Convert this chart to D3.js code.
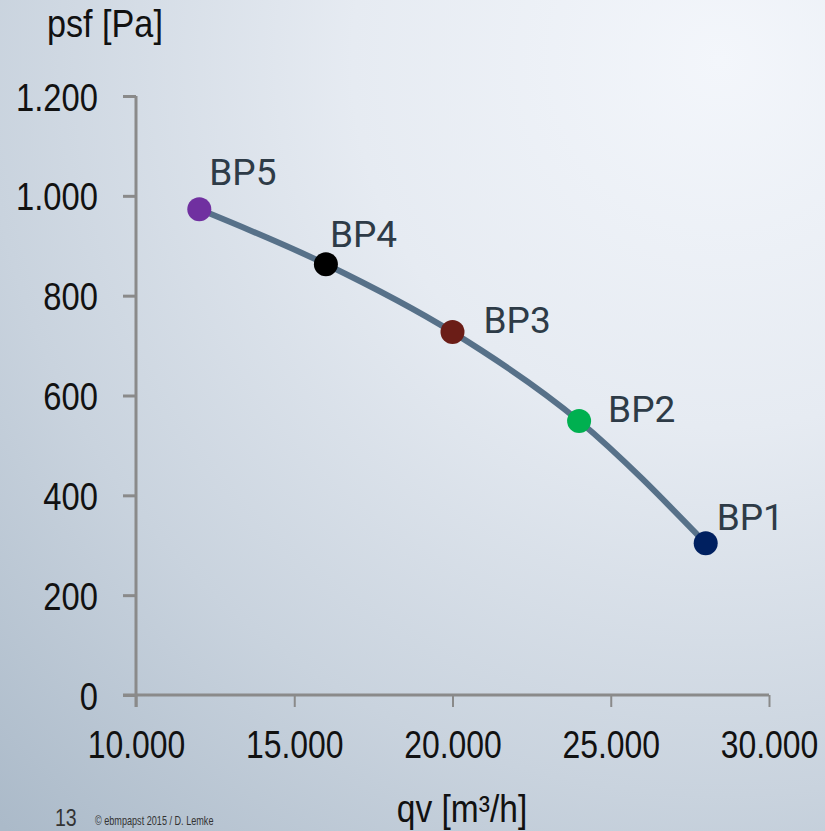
<!DOCTYPE html>
<html>
<head>
<meta charset="utf-8">
<script src="https://cdn.jsdelivr.net/npm/d3@7"></script>
<style>
  html, body { margin: 0; padding: 0; }
  body { width: 825px; height: 831px; overflow: hidden; }
  svg { display: block; }
</style>
</head>
<body>
<svg id="chart" width="825" height="831"></svg>
<script>
// Operating points of the fan curve
const pointNames = ["BP1", "BP2", "BP3", "BP4", "BP5"];
const flowValues = [28000, 24000, 20000, 16000, 12000];     // qv [m³/h]
const pressureValues = [304, 549, 727, 863, 973];           // psf [Pa]
const pointColors = ["#002060", "#00b050", "#6b1d17", "#000000", "#7030a0"];

const xTicks = [10000, 15000, 20000, 25000, 30000];
const yTicks = [0, 200, 400, 600, 800, 1000, 1200];

const W = 825, H = 831;
const svg = d3.select("#chart");

// Soft radial background, bright at upper right
const defs = svg.append("defs");
const bg = defs.append("radialGradient")
  .attr("id", "bg")
  .attr("gradientUnits", "userSpaceOnUse")
  .attr("cx", 720).attr("cy", 60).attr("r", 1050);
bg.append("stop").attr("offset", "0%").attr("stop-color", "#f3f6fb");
bg.append("stop").attr("offset", "35%").attr("stop-color", "#e6ebf2");
bg.append("stop").attr("offset", "70%").attr("stop-color", "#c9d3de");
bg.append("stop").attr("offset", "100%").attr("stop-color", "#abbac9");
svg.append("rect").attr("width", W).attr("height", H).attr("fill", "url(#bg)");

const x = d3.scaleLinear().domain([10000, 30000]).range([136, 769]);
const y = d3.scaleLinear().domain([0, 1200]).range([695, 96]);

const fmt = v => d3.format(",")(v).replace(/,/g, ".");
const sans = "'Liberation Sans', Arial, sans-serif";
const axisColor = "#8a8a8a";

// Squeeze text horizontally (narrow face look) around its own anchor point
function condense(sel, factor) {
  sel.each(function () {
    const x0 = +(this.getAttribute("x") || 0);
    d3.select(this).attr("transform", `translate(${x0},0) scale(${factor},1) translate(${-x0},0)`);
  });
}

// X axis
const xAxis = svg.append("g")
  .attr("transform", `translate(0,${y(0)})`)
  .call(d3.axisBottom(x).tickValues(xTicks).tickFormat(fmt).tickSize(12).tickSizeOuter(0).tickPadding(24));
xAxis.select(".domain").remove();
xAxis.append("line")
  .attr("x1", 123).attr("x2", x(30000)).attr("y1", 0).attr("y2", 0)
  .attr("stroke", axisColor).attr("stroke-width", 3);
xAxis.selectAll(".tick line").attr("stroke", axisColor).attr("stroke-width", 2);
xAxis.selectAll(".tick text")
  .attr("fill", "#111").attr("font-family", sans).attr("font-size", 38)
  .attr("dy", "0.71em")
  .call(condense, 0.84);

// Y axis
const yAxis = svg.append("g")
  .attr("transform", `translate(${x(10000)},0)`)
  .call(d3.axisLeft(y).tickValues(yTicks).tickFormat(fmt).tickSize(13).tickSizeOuter(0).tickPadding(25));
yAxis.select(".domain").remove();
yAxis.append("line")
  .attr("x1", 0).attr("x2", 0).attr("y1", y(1200)).attr("y2", y(0) + 12)
  .attr("stroke", axisColor).attr("stroke-width", 3);
yAxis.selectAll(".tick line").attr("stroke", axisColor).attr("stroke-width", 3);
yAxis.selectAll(".tick text")
  .attr("fill", "#111").attr("font-family", sans).attr("font-size", 39)
  .attr("dy", "0.36em")
  .call(condense, 0.84);

// Axis titles
svg.append("text").attr("x", 47).attr("y", 37)
  .attr("font-family", sans).attr("font-size", 38).attr("fill", "#111")
  .text("psf [Pa]")
  .call(condense, 0.9);
svg.append("text").attr("x", 462).attr("y", 822).attr("text-anchor", "middle")
  .attr("font-family", sans).attr("font-size", 39).attr("fill", "#111")
  .text("qv [m³/h]")
  .call(condense, 0.86);

// Footer
svg.append("text").attr("x", 55).attr("y", 826)
  .attr("font-family", sans).attr("font-size", 23).attr("fill", "#333")
  .text("13")
  .call(condense, 0.85);
svg.append("text").attr("x", 95).attr("y", 825)
  .attr("font-family", sans).attr("font-size", 13).attr("fill", "#333")
  .text("© ebmpapst 2015 / D. Lemke")
  .call(condense, 0.7);

// Fan curve
const pts = flowValues.map((v, i) => ({ name: pointNames[i], q: v, p: pressureValues[i], color: pointColors[i] }));
const sorted = pts.slice().sort((a, b) => a.q - b.q);
const line = d3.line().x(d => x(d.q)).y(d => y(d.p)).curve(d3.curveMonotoneX);
svg.append("path").datum(sorted)
  .attr("d", line)
  .attr("fill", "none").attr("stroke", "#577189").attr("stroke-width", 6)
  .attr("stroke-linecap", "round");

// Operating points
svg.selectAll("circle.bp").data(pts).join("circle")
  .attr("class", "bp")
  .attr("cx", d => x(d.q)).attr("cy", d => y(d.p)).attr("r", 12)
  .attr("fill", d => d.color);

// Point labels
const labelOffsets = { BP1: [11, -13], BP2: [29, 1], BP3: [31, 1], BP4: [4, -17], BP5: [10, -24] };
svg.selectAll("text.bp").data(pts).join("text")
  .attr("class", "bp")
  .attr("x", d => x(d.q) + labelOffsets[d.name][0])
  .attr("y", d => y(d.p) + labelOffsets[d.name][1])
  .attr("font-family", "Roboto, 'Liberation Sans', sans-serif")
  .attr("font-size", 37).attr("fill", "#2e3b47")
  .text(d => d.name);
</script>
</body>
</html>
